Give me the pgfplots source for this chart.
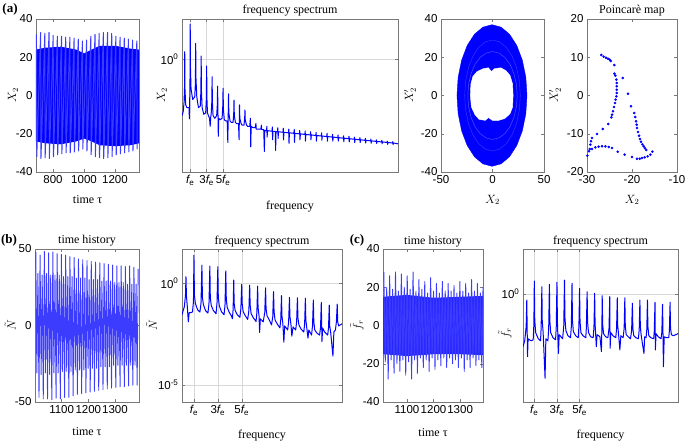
\documentclass[border=0pt]{standalone}
\usepackage{fontspec}
\setmainfont{Liberation Serif}
\setsansfont{Liberation Sans}
\usepackage{pgfplots}
\pgfplotsset{compat=1.18}

\definecolor{axgray}{RGB}{120,120,120}
\definecolor{gridgray}{RGB}{215,215,215}
\definecolor{mblue}{RGB}{0,0,255}
\definecolor{lblue}{RGB}{60,60,255}

\pgfplotsset{
  panel/.style={
    scale only axis, anchor=south west, height=153pt,
    axis line style={axgray},
    every tick/.style={axgray, thin}, major tick length=3pt,
    tick label style={font=\sffamily\fontsize{11.5}{12}\selectfont},
    /pgf/number format/assume math mode=true,
    /pgf/number format/1000 sep={},
    scaled ticks=false,
    label style={font=\fontsize{12}{14}\selectfont},
    every axis title/.style={at={(0.5,1)}, anchor=base, yshift=5pt,
      font=\fontsize{12}{14}\selectfont},
  },
  spec/.style={panel, xmin=0, xtick={1,3,5},
    xticklabels={{\itshape f}\textsubscript{e}, 3{\itshape f}\textsubscript{e}, 5{\itshape f}\textsubscript{e}},
    grid=major, major grid style={gridgray, thin},
    xlabel={frequency}},
  sig/.style={draw=mblue, line width=1pt, line join=round},
}

\begin{document}
\begin{tikzpicture}
\useasboundingbox (0,0) rectangle (685pt,444pt);

% ---------- (a) ----------
\node[font=\bfseries\fontsize{13}{13}\selectfont] at (10pt,435pt) {(a)};

\begin{axis}[panel, at={(36pt,272pt)}, width=103pt,
  xmin=690, xmax=1355, ymin=-40, ymax=40,
  xtick={800,1000,1200}, ytick={-40,-20,0,20,40},
  xlabel={time τ}, ylabel={$X_2$},
  xlabel style={at={(axis description cs:0.5,-0.183)}, anchor=center},
  ylabel style={at={(axis description cs:-0.223,0.5)}, anchor=center}]
\addplot[fill=mblue, draw=none] coordinates {
  (690,24) (750,25) (850,25.5) (950,24) (1000,22) (1050,24) (1100,26) (1200,26) (1300,24.5) (1355,24)
  (1355,-25) (1300,-26) (1200,-26.5) (1100,-26) (1050,-24) (1000,-22.5) (950,-24) (850,-25.5) (750,-25) (690,-24)};
\addplot[sig, draw=lblue] coordinates {
  (693,32) (695,-32) (720,33) (722,-33) (747,32.5) (749,-32.5) (774,33) (776,-33)
  (801,31.5) (803,-32) (828,31) (830,-31) (855,31) (857,-30.5) (882,30.5) (884,-30)
  (909,30.5) (911,-30) (936,30) (938,-29.5) (963,29.5) (965,-29) (990,28.5) (992,-28)
  (1017,29) (1019,-29) (1044,31) (1046,-31) (1071,32) (1073,-32) (1098,32.5) (1100,-32.5)
  (1125,33) (1127,-33) (1152,33) (1154,-32.5) (1179,32.5) (1181,-32) (1206,31) (1208,-31)
  (1233,30.5) (1235,-30.5) (1260,30) (1262,-30) (1287,29.5) (1289,-29.5) (1314,29) (1316,-29)
  (1341,28.5) (1343,-28)};
\end{axis}

\begin{axis}[spec, at={(182pt,272pt)}, width=216pt,
  xmax=26.3, ymin=-4.2, ymax=1.5, ytick={0}, yticklabels={10\textsuperscript{0}},
  title={frequency spectrum}, ylabel={$X_2$},
  xlabel style={at={(axis description cs:0.5,-0.229)}, anchor=center},
  ylabel style={at={(axis description cs:-0.093,0.5)}, anchor=center}]
\addplot[sig] coordinates {
  (0,-2.1) (0.15,-1.95) (0.25,-1.6) (0.31,-1.0) (0.333,0.28) (0.36,-1.1) (0.45,-1.7) (0.6,-1.8)
  (0.85,-1.8) (0.9,-2.22) (0.94,-1.5) (0.98,-0.6) (1.0,1.31) (1.03,-0.3) (1.1,-1.1) (1.3,-1.5)
  (1.55,-1.4) (1.63,-0.9) (1.667,0.59) (1.7,-0.7) (1.8,-1.4) (2.0,-1.8)
  (2.22,-1.75) (2.3,-1.2) (2.333,0.12) (2.37,-1.2) (2.45,-1.8) (2.65,-2.05)
  (2.88,-2.0) (2.96,-1.5) (3.0,-0.25) (3.04,-1.5) (3.1,-2.0) (3.35,-2.2) (3.43,-2.5) (3.5,-2.15)
  (3.55,-2.05) (3.63,-1.6) (3.667,-0.65) (3.7,-1.6) (3.78,-2.1) (4.0,-2.2)
  (4.22,-2.1) (4.3,-1.7) (4.333,-1.0) (4.37,-1.8) (4.42,-2.87) (4.48,-2.2) (4.65,-2.25)
  (4.88,-2.2) (4.96,-1.8) (5.0,-1.08) (5.04,-1.85) (5.15,-2.25) (5.3,-2.3)
  (5.5,-2.3) (5.58,-3.1) (5.62,-2.2) (5.667,-1.29) (5.7,-2.0) (5.85,-2.3) (6.0,-2.35)
  (6.22,-2.35) (6.3,-2.0) (6.333,-1.52) (6.37,-2.1) (6.5,-2.35) (6.65,-2.4)
  (6.88,-2.4) (6.95,-3.0) (6.98,-2.2) (7.0,-1.7) (7.04,-2.2) (7.2,-2.4) (7.3,-2.45)
  (7.55,-2.45) (7.63,-2.2) (7.667,-1.89) (7.7,-2.25) (7.85,-2.45) (8.0,-2.5)
  (8.25,-2.5) (8.3,-2.3) (8.333,-2.2) (8.37,-3.26) (8.42,-2.5) (8.65,-2.55)
  (8.9,-2.55) (8.97,-2.45) (9.0,-2.39) (9.04,-2.6) (9.2,-2.6)
  (9.6,-2.6) (9.667,-2.45) (9.7,-2.62) (9.95,-2.62) (10.03,-3.44) (10.08,-2.65)
  (10.29,-2.66) (10.333,-2.5) (10.36,-2.9) (10.42,-2.66)
  (10.96,-2.68) (11,-2.52) (11.03,-3.0) (11.08,-2.69)
  (11.36,-2.69) (11.4,-3.4) (11.45,-2.7)
  (11.62,-2.7) (11.667,-2.55) (11.7,-2.95) (11.75,-2.7)
  (12.29,-2.72) (12.333,-2.57) (12.36,-3.0) (12.42,-2.72)
  (12.96,-2.74) (13,-2.6) (13.03,-3.13) (13.08,-2.74)
  (13.62,-2.76) (13.667,-2.62) (13.7,-3.1) (13.75,-2.76)
  (14.29,-2.78) (14.333,-2.65) (14.36,-3.0) (14.42,-2.78)
  (14.96,-2.8) (15,-2.67) (15.03,-3.05) (15.08,-2.8)
  (15.62,-2.82) (15.667,-2.7) (15.7,-3.0) (15.75,-2.82)
  (16.29,-2.84) (16.333,-2.72) (16.36,-3.05) (16.42,-2.84)
  (16.96,-2.86) (17,-2.74) (17.03,-3.02) (17.08,-2.86)
  (17.62,-2.88) (17.667,-2.76) (17.7,-3.05) (17.75,-2.88)
  (18.29,-2.9) (18.333,-2.8) (18.36,-3.05) (18.42,-2.9)
  (18.96,-2.92) (19,-2.82) (19.03,-3.05) (19.08,-2.92)
  (19.62,-2.94) (19.667,-2.85) (19.7,-3.07) (19.75,-2.94)
  (20.29,-2.96) (20.333,-2.87) (20.36,-3.08) (20.42,-2.96)
  (20.96,-2.98) (21,-2.9) (21.03,-3.1) (21.08,-2.98)
  (21.62,-3.0) (21.667,-2.92) (21.7,-3.1) (21.75,-3.0)
  (22.29,-3.02) (22.333,-2.95) (22.36,-3.12) (22.42,-3.02)
  (22.96,-3.04) (23,-2.97) (23.03,-3.13) (23.08,-3.04)
  (23.62,-3.06) (23.667,-3.0) (23.7,-3.14) (23.75,-3.06)
  (24.29,-3.08) (24.333,-3.02) (24.36,-3.15) (24.42,-3.08)
  (24.96,-3.1) (25,-3.05) (25.03,-3.17) (25.08,-3.1)
  (25.62,-3.12) (25.667,-3.07) (25.7,-3.18) (25.75,-3.12)
  (26.3,-3.15)};
\end{axis}

\begin{axis}[panel, at={(441pt,272pt)}, width=103pt,
  xmin=-50, xmax=50, ymin=-40, ymax=40,
  xtick={-50,0,50}, ytick={-40,-20,0,20,40},
  xlabel={$X_2$}, ylabel={$X'_2$},
  xlabel style={at={(axis description cs:0.5,-0.183)}, anchor=center},
  ylabel style={at={(axis description cs:-0.30,0.5)}, anchor=center}]
\addplot[fill=mblue, draw=mblue] coordinates {
  (33.5,0) (32.34,9.58) (28.94,18.5) (23.54,26.16) (16.5,32.04) (8.3,35.74) (-0.5,37)
  (-9.3,35.74) (-17.5,32.04) (-24.54,26.16) (-29.94,18.5) (-33.34,9.58) (-34.5,0)
  (-33.34,-9.58) (-29.94,-18.5) (-24.54,-26.16) (-17.5,-32.04) (-9.3,-35.74) (-0.5,-37)
  (8.3,-35.74) (16.5,-32.04) (23.54,-26.16) (28.94,-18.5) (32.34,-9.58) (33.5,0)};
% lighter orbits inside the ring
\addplot[draw=white, opacity=0.2, line width=0.5pt] coordinates {
  (27,0) (26.1,7.5) (23.4,14.5) (19.1,20.5) (13.5,25.1) (7,28) (0,29) (-7,28) (-13.5,25.1)
  (-19.1,20.5) (-23.4,14.5) (-26.1,7.5) (-27,0) (-26.1,-7.5) (-23.4,-14.5) (-19.1,-20.5)
  (-13.5,-25.1) (-7,-28) (0,-29) (7,-28) (13.5,-25.1) (19.1,-20.5) (23.4,-14.5) (26.1,-7.5) (27,0)};
\addplot[draw=white, opacity=0.3, line width=0.5pt] coordinates {
  (24,0) (23.2,6) (20.8,11.5) (17,16.3) (12,19.9) (6.2,22.2) (0,23) (-6.2,22.2) (-12,19.9)
  (-17,16.3) (-20.8,11.5) (-23.2,6) (-24,0) (-23.2,-6) (-20.8,-11.5) (-17,-16.3)
  (-12,-19.9) (-6.2,-22.2) (0,-23) (6.2,-22.2) (12,-19.9) (17,-16.3) (20.8,-11.5) (23.2,-6) (24,0)};
\addplot[fill=white, draw=white] coordinates {
  (-21.5,0) (-21,6) (-19,10) (-15,12.5) (-9,14) (-4,14.5) (-1,12.5) (2,14) (8,14.5)
  (13,13) (17,10.5) (19.5,6) (20,0) (19.5,-6) (17,-9.5) (12,-12) (6,-13) (0,-13)
  (-4,-11.5) (-7,-13) (-13,-12.5) (-17,-10) (-20.5,-6) (-21.5,0)};
\end{axis}

\begin{axis}[panel, at={(587pt,272pt)}, width=90pt,
  xmin=-30, xmax=-10, ymin=-20, ymax=20,
  xtick={-30,-20,-10}, ytick={-20,-10,0,10,20},
  title={Poincarè map}, xlabel={$X_2$}, ylabel={$X'_2$},
  xlabel style={at={(axis description cs:0.5,-0.183)}, anchor=center},
  ylabel style={at={(axis description cs:-0.356,0.5)}, anchor=center}]
\addplot[only marks, mark=*, mark size=1.1pt, mblue] coordinates {
  (-26.81,10.59) (-26.30,10.15) (-25.78,9.89) (-25.33,9.63) (-24.96,9.37) (-24.74,9.02)
  (-23.92,7.97) (-23.92,5.71) (-23.70,5.18) (-23.48,4.14) (-23.40,3.27) (-23.40,2.40)
  (-23.40,1.52) (-23.40,0.65) (-23.48,-0.22) (-23.63,-1.09) (-23.78,-1.96) (-24.00,-3.01)
  (-24.22,-4.14) (-24.44,-5.01) (-24.59,-5.71) (-25.26,-7.45) (-26.52,-8.76) (-27.78,-10.07)
  (-28.89,-11.11) (-29.11,-11.98) (-29.26,-12.86) (-29.41,-13.99) (-29.56,-14.60) (-29.93,-15.73)
  (-28.89,-13.99) (-28.15,-13.55) (-27.41,-13.38) (-26.67,-13.29) (-25.92,-13.29) (-25.18,-13.47)
  (-24.44,-13.73) (-23.18,-14.69) (-21.63,-15.47) (-20.00,-16.08) (-18.89,-16.52) (-18.29,-16.52)
  (-17.78,-16.34) (-17.18,-16.17) (-16.51,-15.91) (-15.92,-15.47) (-15.48,-14.69)
  (-22.07,4.57) (-20.89,0.48) (-20.22,-2.83) (-19.48,-4.58) (-19.26,-5.62) (-19.11,-6.76)
  (-18.96,-7.63) (-18.89,-8.50) (-18.66,-9.54) (-18.44,-10.50) (-18.22,-11.37) (-18.00,-12.07)
  (-17.70,-12.77) (-17.40,-13.29) (-17.11,-13.81) (-16.81,-14.25)};
\end{axis}

% ---------- (b) ----------
\node[font=\bfseries\fontsize{13}{13}\selectfont] at (9pt,204pt) {(b)};

\begin{axis}[panel, at={(35pt,42pt)}, width=104pt,
  xmin=1000, xmax=1390, ymin=-50, ymax=50,
  xtick={1100,1200,1300}, ytick={-50,0,50},
  title={time history}, xlabel={time τ}, ylabel={$\tilde{N}$},
  xlabel style={at={(axis description cs:0.5,-0.196)}, anchor=center},
  ylabel style={at={(axis description cs:-0.24,0.5)}, anchor=center}]
\addplot[sig, line width=0.9pt, draw=lblue] coordinates {
  (1003,48) (1007,-31) (1011,34) (1015,-47)
  (1019,46) (1023,-32) (1027,33) (1031,-48)
  (1035,48.5) (1039,-31) (1043,34) (1047,-48)
  (1051,47.5) (1055,-32) (1059,33) (1063,-48.5)
  (1067,48) (1071,-31) (1075,33) (1079,-47.5)
  (1083,47) (1087,-31) (1091,33) (1095,-48)
  (1099,46.5) (1103,-30) (1107,32) (1111,-47)
  (1115,46) (1119,-30) (1123,32) (1127,-47)
  (1131,45) (1135,-30) (1139,32) (1143,-46)
  (1147,44.5) (1151,-29) (1155,31) (1159,-45)
  (1163,43.5) (1167,-29) (1171,31) (1175,-44.5)
  (1179,43) (1183,-29) (1187,31) (1191,-44)
  (1195,42.5) (1199,-28) (1203,30) (1207,-43.5)
  (1211,42) (1215,-28) (1219,30) (1223,-43)
  (1227,41.5) (1231,-28) (1235,30) (1239,-42.5)
  (1243,41) (1247,-27) (1251,29) (1255,-42)
  (1259,40.5) (1263,-27) (1267,29) (1271,-41.5)
  (1275,40) (1279,-27) (1283,29) (1287,-41)
  (1291,39.5) (1295,-26) (1299,28) (1303,-40.5)
  (1307,39) (1311,-26) (1315,28) (1319,-40)
  (1323,39) (1327,-26) (1331,28) (1335,-40)
  (1339,38.5) (1343,-26) (1347,27) (1351,-39.5)
  (1355,39) (1359,-26) (1363,27) (1367,-39)
  (1371,38) (1375,-26) (1379,27) (1383,-39)
  (1387,37)};
\end{axis}

\begin{axis}[spec, at={(182pt,42pt)}, width=160pt,
  xmax=13.4, ymin=-5.83, ymax=1.67, ytick={-5,0},
  yticklabels={10\textsuperscript{-5}, 10\textsuperscript{0}},
  title={frequency spectrum}, ylabel={$\tilde{N}$},
  xlabel style={at={(axis description cs:0.5,-0.22)}, anchor=center},
  ylabel style={at={(axis description cs:-0.19,0.5)}, anchor=center}]
\addplot[sig] coordinates {
  (0,-1.55) (0.1,-1.35) (0.2,-1.15) (0.29,-0.6) (0.333,0.31) (0.37,-0.6) (0.45,-1.2) (0.53,-1.9) (0.6,-1.45) (0.75,-1.45)
  (0.88,-1.41) (0.96,-0.9) (1.0,1.37) (1.04,-0.6) (1.12,-1.0) (1.3,-1.3) (1.5,-1.42)
  (1.59,-1.0) (1.667,0.88) (1.71,-0.7) (1.79,-1.05) (1.97,-1.35) (2.17,-1.47)
  (2.26,-1.0) (2.333,0.83) (2.37,-0.7) (2.45,-1.1) (2.63,-1.35) (2.85,-1.5)
  (2.93,-1.0) (3.0,0.8) (3.04,-0.7) (3.12,-1.1) (3.3,-1.4) (3.52,-1.55)
  (3.6,-1.1) (3.667,0.6) (3.71,-0.8) (3.79,-1.2) (3.97,-1.45) (4.15,-1.62) (4.22,-1.75)
  (4.28,-1.3) (4.333,0.15) (4.37,-1.0) (4.45,-1.35) (4.63,-1.55) (4.85,-1.68)
  (4.93,-1.25) (5.0,-0.07) (5.04,-1.0) (5.12,-1.4) (5.3,-1.6) (5.5,-1.78)
  (5.6,-1.35) (5.667,-0.1) (5.71,-1.1) (5.79,-1.5) (5.97,-1.7) (6.2,-1.88)
  (6.27,-1.45) (6.333,-0.15) (6.37,-1.2) (6.45,-1.6) (6.5,-2.42) (6.56,-1.75) (6.8,-1.9)
  (6.93,-1.45) (7.0,-0.23) (7.04,-1.25) (7.12,-1.6) (7.3,-1.8) (7.5,-2.05)
  (7.6,-1.65) (7.667,-0.42) (7.71,-1.4) (7.79,-1.8) (7.97,-2.0) (8.2,-2.2)
  (8.27,-1.8) (8.333,-0.62) (8.37,-1.6) (8.45,-2.0) (8.53,-2.9) (8.6,-2.1) (8.85,-2.3)
  (8.93,-1.9) (9.0,-0.7) (9.04,-1.65) (9.12,-2.0) (9.2,-2.6) (9.3,-2.15) (9.52,-2.3)
  (9.6,-1.9) (9.667,-0.72) (9.71,-1.7) (9.79,-2.05) (9.97,-2.25) (10.2,-2.4)
  (10.27,-2.0) (10.333,-0.75) (10.37,-1.8) (10.45,-2.2) (10.55,-2.7) (10.62,-2.3) (10.85,-2.55)
  (10.93,-2.1) (11.0,-0.83) (11.04,-1.9) (11.12,-2.3) (11.3,-2.45) (11.52,-2.55)
  (11.6,-2.2) (11.667,-0.95) (11.72,-2.87) (11.78,-2.2) (11.95,-2.4) (12.2,-2.55)
  (12.27,-2.2) (12.333,-1.08) (12.37,-2.1) (12.45,-2.4) (12.64,-3.58) (12.72,-2.4) (12.85,-2.3)
  (12.93,-1.9) (13.0,-1.03) (13.04,-1.9) (13.12,-2.1) (13.25,-2.05) (13.4,-2.0)};
\end{axis}

% ---------- (c) ----------
\node[font=\bfseries\fontsize{13}{13}\selectfont] at (357pt,204pt) {(c)};

\begin{axis}[panel, at={(383pt,42pt)}, width=100pt,
  xmin=1010, xmax=1386, ymin=-40, ymax=40,
  xtick={1100,1200,1300}, ytick={-40,-20,0,20,40},
  title={time history}, xlabel={time τ}, ylabel={$\tilde{f}_r$},
  xlabel style={at={(axis description cs:0.5,-0.203)}, anchor=center},
  ylabel style={at={(axis description cs:-0.26,0.5)}, anchor=center}]
\addplot[fill=mblue!85, draw=none] coordinates {
  (1010,15) (1100,16) (1200,14.5) (1300,15) (1386,15.5)
  (1386,-15.5) (1300,-15) (1200,-15) (1100,-16) (1010,-15)};
\addplot[sig, line width=0.9pt, draw=lblue] coordinates {
  (1013,28) (1018.5,-19) (1024,20) (1029.5,-28)
  (1035,26) (1040.5,-18) (1046,19) (1051.5,-25)
  (1057,28) (1062.5,-20) (1068,18) (1073.5,-24)
  (1079,27) (1084.5,-18) (1090,20) (1095.5,-26)
  (1101,26) (1106.5,-19) (1112,19) (1117.5,-28)
  (1123,28) (1128.5,-18) (1134,18) (1139.5,-25)
  (1145,24) (1150.5,-17) (1156,19) (1161.5,-22)
  (1167,23) (1172.5,-18) (1178,17) (1183.5,-24)
  (1189,25) (1194.5,-17) (1200,18) (1205.5,-23)
  (1211,22) (1216.5,-18) (1222,17) (1227.5,-21)
  (1233,23) (1238.5,-17) (1244,18) (1249.5,-22)
  (1255,22) (1260.5,-17) (1266,18) (1271.5,-20)
  (1277,21) (1282.5,-18) (1288,17) (1293.5,-22)
  (1299,23) (1304.5,-17) (1310,18) (1315.5,-24)
  (1321,22) (1326.5,-18) (1332,17) (1337.5,-22)
  (1343,24) (1348.5,-17) (1354,18) (1359.5,-21)
  (1365,22) (1370.5,-18) (1376,17) (1381.5,-22)
  (1386,20)};
\end{axis}

\begin{axis}[spec, at={(523pt,42pt)}, width=155pt,
  xmax=13.7, ymin=-5.3, ymax=2.2, ytick={0}, yticklabels={10\textsuperscript{0}},
  title={frequency spectrum}, ylabel={$\tilde{f}_r$},
  xlabel style={at={(axis description cs:0.5,-0.22)}, anchor=center},
  ylabel style={at={(axis description cs:-0.116,0.45)}, anchor=center}]
\addplot[sig] coordinates {
  (0,-2.59) (0.15,-2.3) (0.28,-1.6) (0.333,-0.3) (0.37,-1.8) (0.4,-3.08) (0.45,-2.2) (0.7,-2.3)
  (0.9,-2.25) (0.96,-1.5) (1.0,0.63) (1.04,-1.3) (1.12,-1.9) (1.35,-2.2) (1.55,-2.3)
  (1.6,-1.7) (1.667,0.35) (1.7,-1.3) (1.78,-1.9) (1.95,-4.14) (2.02,-2.2) (2.2,-2.3)
  (2.27,-1.7) (2.333,0.47) (2.37,-1.3) (2.45,-1.9) (2.65,-2.15) (2.88,-2.25)
  (2.94,-1.6) (3.0,0.57) (3.04,-1.3) (3.13,-2.92) (3.2,-2.0) (3.5,-2.2)
  (3.6,-1.6) (3.667,0.68) (3.71,-1.2) (3.79,-1.8) (3.97,-2.05) (4.2,-2.15)
  (4.27,-1.6) (4.333,0.52) (4.37,-1.3) (4.45,-1.85) (4.65,-2.05) (4.88,-2.15)
  (4.94,-1.6) (5.0,0.27) (5.04,-1.35) (5.12,-1.9) (5.3,-2.05) (5.55,-2.15)
  (5.6,-1.65) (5.667,0.11) (5.71,-1.4) (5.79,-1.9) (5.97,-2.1) (6.2,-2.15)
  (6.27,-1.65) (6.333,0.03) (6.37,-1.45) (6.48,-2.59) (6.55,-2.0) (6.8,-2.1) (6.93,-2.83)
  (6.97,-1.7) (7.0,-0.09) (7.04,-1.5) (7.12,-1.95) (7.3,-2.1) (7.5,-2.15)
  (7.6,-1.7) (7.667,-0.14) (7.7,-2.67) (7.76,-1.9) (7.95,-2.05) (8.2,-2.15)
  (8.27,-1.7) (8.333,-0.19) (8.37,-1.55) (8.45,-2.0) (8.56,-2.75) (8.65,-2.05) (8.85,-2.15)
  (8.94,-1.7) (9.0,-0.19) (9.04,-1.55) (9.12,-2.0) (9.3,-2.1) (9.5,-2.2)
  (9.6,-1.8) (9.667,-0.46) (9.71,-1.7) (9.79,-2.05) (9.97,-2.15) (10.2,-2.2)
  (10.27,-1.75) (10.333,-0.3) (10.37,-1.6) (10.45,-2.05) (10.69,-2.92) (10.75,-2.1) (10.88,-2.15)
  (10.94,-1.75) (11.0,-0.3) (11.04,-1.6) (11.12,-2.05) (11.3,-2.15) (11.55,-2.2)
  (11.6,-1.85) (11.667,-0.42) (11.7,-2.75) (11.76,-1.95) (11.95,-2.1) (12.2,-2.2)
  (12.27,-1.9) (12.333,-0.51) (12.37,-1.8) (12.41,-3.57) (12.48,-2.1) (12.65,-2.15) (12.88,-2.15)
  (12.94,-1.8) (13.0,-0.41) (13.04,-1.7) (13.12,-2.0) (13.3,-2.05) (13.5,-2.0) (13.7,-1.95)};
\end{axis}
\end{tikzpicture}
\end{document}
